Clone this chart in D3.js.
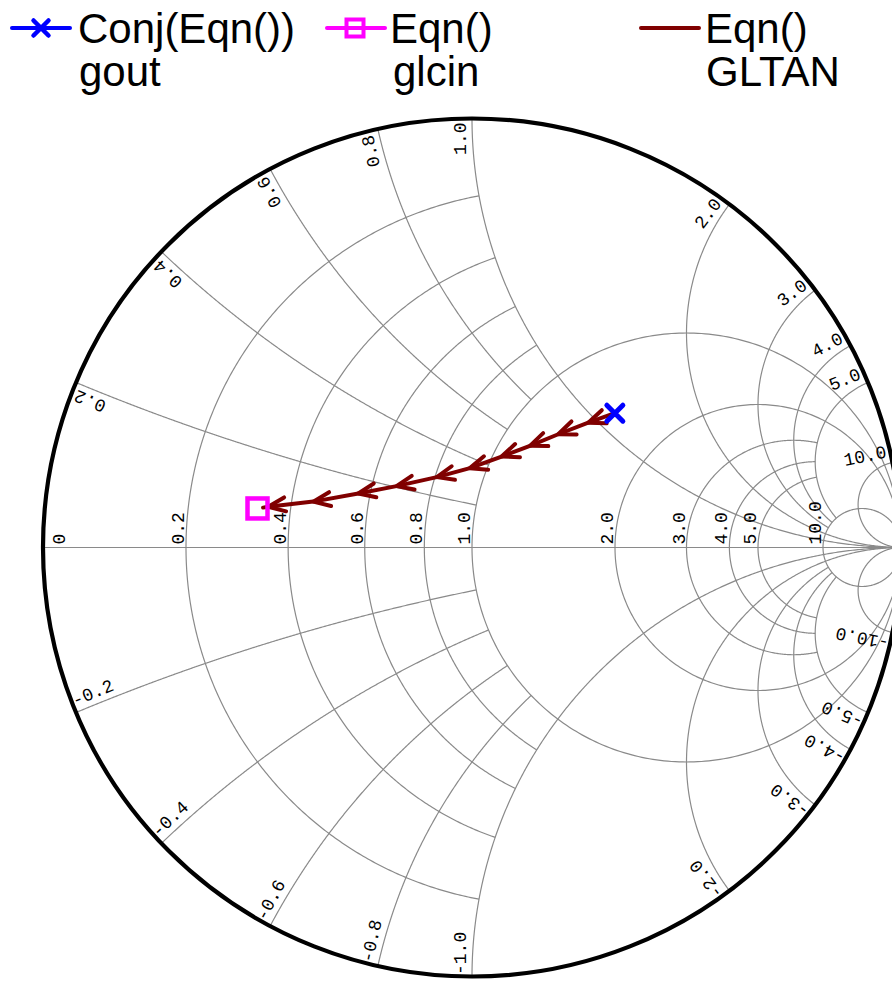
<!DOCTYPE html>
<html>
<head>
<meta charset="utf-8">
<script src="https://cdn.jsdelivr.net/npm/d3@7"></script>
<style>
  html, body { margin: 0; padding: 0; background: #ffffff; overflow: hidden; }
  svg { display: block; }
</style>
</head>
<body>
<svg id="chart" width="892" height="981"></svg>
<script>
// ---- Smith chart grid definition ----
// constant-resistance circles and how far (|x|) each one is drawn
const resistances     = [0.2, 0.4, 0.6, 0.8, 1, 2, 3, 4, 5, 10];
const resistanceReach = [1, 1, 1, 1, Infinity, Infinity, 5, 5, 5, Infinity];
// constant-reactance arcs and how far (r) each one is drawn
const reactances      = [0.2, 0.4, 0.6, 0.8, 1, 2, 3, 4, 5, 10];
const reactanceReach  = [1, 1, 1, 1, Infinity, Infinity, 10, 10, 10, Infinity];
// labels along the real axis
const realAxisValues  = [0, 0.2, 0.4, 0.6, 0.8, 1, 2, 3, 4, 5, 10];
const realAxisLabels  = ["0", "0.2", "0.4", "0.6", "0.8", "1.0", "2.0", "3.0", "4.0", "5.0", "10.0"];

// ---- traces (reflection coefficients) ----
// gout, plotted as its conjugate
const goutRe = 0.333, goutIm = -0.313;
// glcin, single point
const glcinRe = -0.500, glcinIm = 0.091;
// GLTAN sweep
const gltanRe = [0.333, 0.271, 0.201, 0.135, 0.069, -0.005, -0.082, -0.176, -0.265, -0.370, -0.475, -0.487];
const gltanIm = [0.313, 0.291, 0.264, 0.237, 0.212, 0.185, 0.164, 0.143, 0.126, 0.107, 0.095, 0.093];

// legend entries
const legendTitles = ["Conj(Eqn())", "Eqn()", "Eqn()"];
const legendNames  = ["gout", "glcin", "GLTAN"];

// ---- layout ----
const cx = 472, cy = 547.5, R = 429;
const gx = d3.scaleLinear().domain([-1, 1]).range([cx - R, cx + R]);
const gy = d3.scaleLinear().domain([-1, 1]).range([cy + R, cy - R]);

const GRID = "#8a8a8a";
const TRACE = "#800000";
const BLUE = "#0000ff";
const MAGENTA = "#ff00ff";
const LABEL_FONT = "'Liberation Mono', 'DejaVu Sans Mono', monospace";
const LEGEND_FONT = "'Liberation Sans', Arial, sans-serif";

const svg = d3.select("#chart");
const TAU = Math.PI * 2;
const norm = a => ((a % TAU) + TAU) % TAU;

// z = r + jx  ->  reflection coefficient
function gamma(r, x) {
  const a = r + 1, den = a * a + x * x;
  return [(r * r - 1 + x * x) / den, (2 * x) / den];
}

function arcPoints(c, rad, a0, a1, n = 360) {
  return d3.range(n + 1).map(i => {
    const a = a0 + (a1 - a0) * i / n;
    return [c[0] + rad * Math.cos(a), c[1] + rad * Math.sin(a)];
  });
}

const line = d3.line().x(d => gx(d[0])).y(d => gy(d[1]));

const grid = svg.append("g")
  .attr("fill", "none")
  .attr("stroke", GRID)
  .attr("stroke-width", 1.2);

// real axis
grid.append("line")
  .attr("x1", gx(-1)).attr("x2", gx(1))
  .attr("y1", gy(0)).attr("y2", gy(0));

// resistance circles
resistances.forEach((r, i) => {
  const c = [r / (1 + r), 0], rad = 1 / (1 + r);
  const reach = resistanceReach[i];
  let a0 = 0, a1 = TAU;
  if (isFinite(reach)) {
    const g = gamma(r, reach);
    a0 = Math.atan2(g[1], g[0] - c[0]);
    a1 = TAU - a0;
  }
  grid.append("path").attr("d", line(arcPoints(c, rad, a0, a1)));
});

// reactance arcs (upper and lower halves)
reactances.forEach((x, i) => {
  const c = [1, 1 / x], rad = 1 / x;
  const g0 = gamma(0, x);
  const a0 = norm(Math.atan2(g0[1] - c[1], g0[0] - c[0]));
  let a1 = 1.5 * Math.PI;
  if (isFinite(reactanceReach[i])) {
    const g1 = gamma(reactanceReach[i], x);
    a1 = norm(Math.atan2(g1[1] - c[1], g1[0] - c[0]));
  }
  const pts = arcPoints(c, rad, a0, a1);
  grid.append("path").attr("d", line(pts));
  grid.append("path").attr("d", line(pts.map(p => [p[0], -p[1]])));
});

// outer boundary (r = 0)
svg.append("circle")
  .attr("cx", gx(0)).attr("cy", gy(0)).attr("r", gx(1) - gx(0))
  .attr("fill", "none").attr("stroke", "#000").attr("stroke-width", 4.2);

// ---- labels ----
const labels = svg.append("g")
  .attr("font-family", LABEL_FONT)
  .attr("font-size", 18)
  .attr("fill", "#000");

// real-axis labels, rotated to read upward
realAxisValues.forEach((r, i) => {
  const xPix = r === 0 ? gx(-1) + 24 : gx((r - 1) / (r + 1));
  labels.append("text")
    .attr("transform", `translate(${xPix},${gy(0) - 3}) rotate(-90)`)
    .attr("y", -2)
    .attr("text-anchor", "start")
    .text(realAxisLabels[i]);
});

// reactance labels at the rim, running along each arc
reactances.forEach(x => {
  [1, -1].forEach(s => {
    const g0 = gamma(0, s * x);
    const alpha = Math.atan2(g0[1], g0[0]);
    const px = gx(g0[0]), py = gy(g0[1]);
    const ux = Math.cos(alpha), uy = -Math.sin(alpha);
    let tx, ty, rot, anchor;
    if (s > 0) {
      tx = px - 4 * ux; ty = py - 4 * uy;
      rot = -alpha * 180 / Math.PI;
      anchor = "end";
    } else {
      tx = px - 1.5 * ux; ty = py - 1.5 * uy;
      rot = Math.atan2(Math.sin(alpha), -Math.cos(alpha)) * 180 / Math.PI;
      anchor = "start";
    }
    labels.append("text")
      .attr("transform", `translate(${tx},${ty}) rotate(${rot})`)
      .attr("y", -6)
      .attr("text-anchor", anchor)
      .text((s > 0 ? "" : "-") + x.toFixed(1));
  });
});

// ---- GLTAN trace with direction chevrons ----
const defs = svg.append("defs");
defs.append("marker")
  .attr("id", "chevron")
  .attr("markerUnits", "userSpaceOnUse")
  .attr("viewBox", "-24 -24 48 48")
  .attr("markerWidth", 48).attr("markerHeight", 48)
  .attr("refX", 0).attr("refY", 0)
  .attr("orient", "auto")
  .append("path")
  .attr("d", "M-17,-7L0,0L-17,7")
  .attr("fill", "none")
  .attr("stroke", TRACE)
  .attr("stroke-width", 4)
  .attr("stroke-linecap", "round")
  .attr("stroke-linejoin", "round");

const gltan = gltanRe.map((re, i) => [re, gltanIm[i]]);
svg.append("path")
  .attr("d", line(gltan))
  .attr("fill", "none")
  .attr("stroke", TRACE)
  .attr("stroke-width", 4)
  .attr("stroke-linejoin", "round")
  .attr("stroke-linecap", "round")
  .attr("marker-mid", "url(#chevron)");

// glcin marker (square)
const sq = 10;
svg.append("rect")
  .attr("x", gx(glcinRe) - sq).attr("y", gy(glcinIm) - sq)
  .attr("width", 2 * sq).attr("height", 2 * sq)
  .attr("fill", "none").attr("stroke", MAGENTA).attr("stroke-width", 4.5);

// conj(gout) marker (cross)
const gxo = gx(goutRe), gyo = gy(-goutIm), k = 8;
svg.append("path")
  .attr("d", `M${gxo - k},${gyo - k}L${gxo + k},${gyo + k}M${gxo - k},${gyo + k}L${gxo + k},${gyo - k}`)
  .attr("stroke", BLUE).attr("stroke-width", 5).attr("stroke-linecap", "round");

// ---- legend ----
const legend = svg.append("g")
  .attr("font-family", LEGEND_FONT)
  .attr("font-size", 42)
  .attr("fill", "#000");

const legendLineX = [12, 327, 641];
const legendTextX = [78, 390, 705];
const legendColors = [BLUE, MAGENTA, TRACE];
const ly = 28;

legendTitles.forEach((t, i) => {
  legend.append("line")
    .attr("x1", legendLineX[i]).attr("x2", legendLineX[i] + 58)
    .attr("y1", ly).attr("y2", ly)
    .attr("stroke", legendColors[i]).attr("stroke-width", 4)
    .attr("stroke-linecap", "round");
  legend.append("text").attr("x", legendTextX[i]).attr("y", 43).text(t);
  legend.append("text").attr("x", legendTextX[i] + (i === 1 ? 3 : 1)).attr("y", 86).text(legendNames[i]);
});

// legend symbols
const lmx = legendLineX[0] + 29, lk = 7.5;
legend.append("path")
  .attr("d", `M${lmx - lk},${ly - lk}L${lmx + lk},${ly + lk}M${lmx - lk},${ly + lk}L${lmx + lk},${ly - lk}`)
  .attr("stroke", BLUE).attr("stroke-width", 4.5).attr("stroke-linecap", "round");
const lsx = legendLineX[1] + 28, ls = 8.5;
legend.append("rect")
  .attr("x", lsx - ls).attr("y", ly - ls).attr("width", 2 * ls).attr("height", 2 * ls)
  .attr("fill", "none").attr("stroke", MAGENTA).attr("stroke-width", 4);
</script>
</body>
</html>
